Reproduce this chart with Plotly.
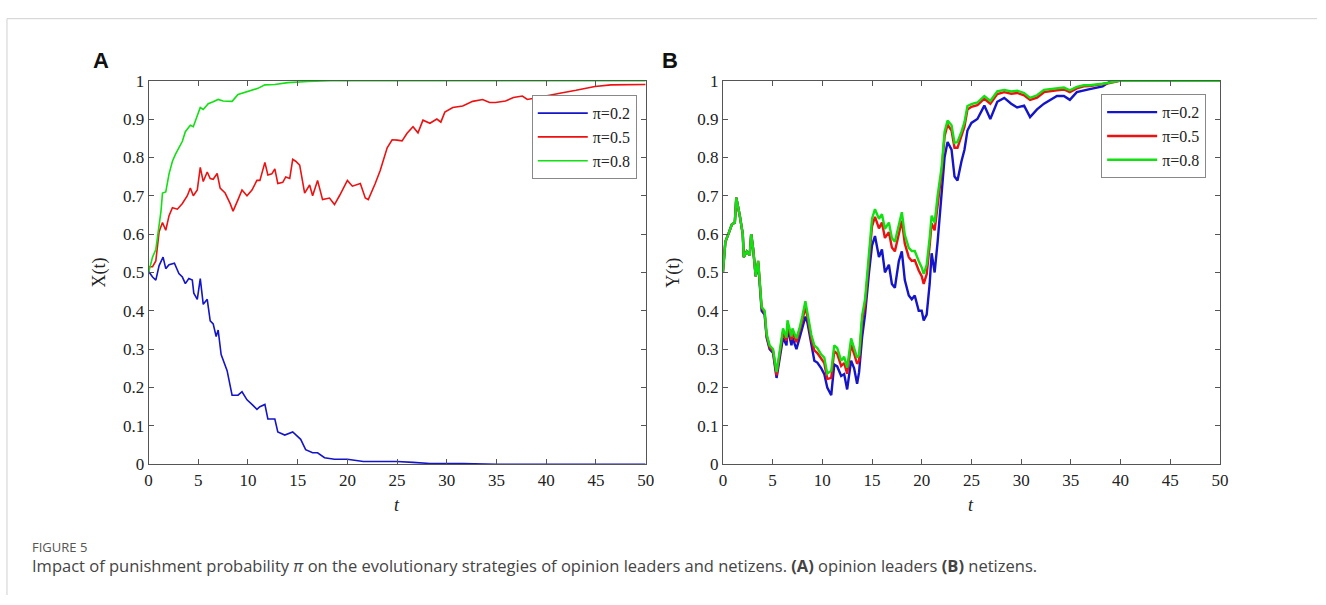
import plotly.graph_objects as go

# ---------------- Panel A data ----------------
tA_green = [0, 0.2, 0.4, 0.73, 1.06, 1.25, 1.4, 1.73, 2.06, 2.4, 2.7, 3.05, 3.4, 3.7, 4.2, 4.5, 4.8, 5.05, 5.2, 5.5,
            6.0, 6.5, 7.0, 7.5, 8.4, 9, 10, 11, 11.7, 12.7, 14, 15, 16, 18.3, 20, 50]
xA_green = [0.5, 0.52, 0.54, 0.56, 0.62, 0.66, 0.707, 0.71, 0.757, 0.79, 0.808, 0.825, 0.842, 0.867, 0.884, 0.88, 0.90,
            0.92, 0.93, 0.925, 0.94, 0.945, 0.951, 0.947, 0.946, 0.964, 0.973, 0.98, 0.989, 0.99, 0.995, 0.997, 0.998,
            1.0, 1.0, 1.0]

tA_red = [0, 0.4, 0.73, 1.06, 1.4, 1.73, 2.06, 2.4, 2.9, 3.4, 3.9, 4.2, 4.5, 4.9, 5.2, 5.5, 5.9, 6.2, 6.5, 6.9, 7.2,
          7.7, 8.2, 8.5, 9.0, 9.4, 9.9, 10.4, 10.9, 11.2, 11.7, 12.0, 12.4, 12.7, 13.0, 13.5, 13.8, 14.2, 14.5, 14.8,
          15.2, 15.7, 16.2, 16.5, 17.0, 17.5, 18.2, 18.7, 19.2, 20.0, 20.5, 21.3, 21.8, 22.1, 22.8, 23.3, 24.0, 24.5,
          25.0, 25.5, 26.0, 26.6, 27.1, 27.6, 28.3, 29.0, 29.4, 29.8, 30.6, 31.6, 32.6, 33.6, 34.3, 34.9, 35.9, 36.7,
          37.6, 38.1, 38.9, 40.2, 41.5, 43, 44.9, 46.5, 48.2, 50]
xA_red = [0.515, 0.515, 0.53, 0.606, 0.63, 0.61, 0.648, 0.669, 0.665, 0.68, 0.70, 0.72, 0.70, 0.715, 0.774, 0.737,
          0.762, 0.745, 0.743, 0.758, 0.72, 0.707, 0.68, 0.66, 0.69, 0.715, 0.70, 0.715, 0.74, 0.74, 0.787, 0.754,
          0.757, 0.77, 0.732, 0.735, 0.749, 0.745, 0.795, 0.79, 0.78, 0.707, 0.728, 0.70, 0.74, 0.69, 0.694, 0.677,
          0.70, 0.74, 0.725, 0.732, 0.694, 0.69, 0.732, 0.766, 0.825, 0.846, 0.845, 0.843, 0.863, 0.88, 0.864, 0.897,
          0.889, 0.90, 0.892, 0.918, 0.93, 0.934, 0.946, 0.951, 0.943, 0.943, 0.947, 0.956, 0.96, 0.951, 0.955, 0.962,
          0.968, 0.975, 0.985, 0.989, 0.989, 0.99]

tA_blue = [0, 0.4, 0.73, 1.06, 1.46, 1.73, 2.06, 2.6, 3.05, 3.4, 3.7, 4.05, 4.4, 4.55, 4.9, 5.2, 5.5, 5.9, 6.2, 6.5,
           6.8, 7.0, 7.3, 7.9, 8.4, 9.0, 9.4, 9.9, 10.4, 10.9, 11.2, 11.7, 12.0, 12.7, 13.0, 13.7, 14.5, 15.0, 15.3,
           15.8, 16.5, 17.0, 17.7, 18.7, 20.0, 21.6, 25.0, 26.6, 28.3, 31.6, 35.0, 50]
xA_blue = [0.503, 0.488, 0.48, 0.518, 0.54, 0.51, 0.52, 0.524, 0.497, 0.488, 0.471, 0.484, 0.48, 0.446, 0.43, 0.484,
           0.417, 0.43, 0.374, 0.366, 0.333, 0.35, 0.286, 0.244, 0.18, 0.18, 0.189, 0.168, 0.156, 0.143, 0.15, 0.156,
           0.118, 0.118, 0.084, 0.076, 0.084, 0.071, 0.065, 0.038, 0.03, 0.03, 0.017, 0.013, 0.013, 0.007, 0.007,
           0.005, 0.002, 0.002, 0.0, 0.0]

# ---------------- Panel B data ----------------
tB = [0, 0.25, 0.55, 0.9, 1.2, 1.35, 1.7, 2.0, 2.1, 2.4, 2.7, 2.85, 3.05, 3.3, 3.55, 3.7, 3.9, 4.2, 4.4, 4.7, 5.05,
      5.4, 5.7, 6.05, 6.4, 6.5, 6.9, 7.0, 7.4, 7.7, 8.0, 8.3, 8.5, 8.9, 9.2, 9.5, 9.9, 10.2, 10.5, 10.9, 11.2, 11.5,
      11.9, 12.2, 12.5, 12.9, 13.2, 13.5, 13.7, 14.0, 14.3, 14.7, 15.0, 15.3, 15.7, 16.0, 16.3, 16.7, 17.0, 17.3,
      17.7, 18.0, 18.3, 18.7, 19.0, 19.3, 19.7, 20.0, 20.2, 20.5, 20.8, 21.0, 21.3, 21.6, 22.0, 22.3, 22.6, 23.0,
      23.3, 23.6, 24.0, 24.3, 24.6, 25.0, 25.6, 26.3, 26.9, 27.6, 28.3, 29.0, 29.6, 30.3, 30.9, 31.6, 32.3, 32.9,
      33.6, 34.3, 34.9, 35.6, 36.3, 36.9, 38.2, 38.9, 40, 45, 50]
yB_green = [0.50, 0.58, 0.60, 0.625, 0.63, 0.695, 0.648, 0.60, 0.54, 0.555, 0.545, 0.60, 0.56, 0.49, 0.53, 0.48,
            0.41, 0.40, 0.34, 0.31, 0.30, 0.24, 0.29, 0.354, 0.33, 0.375, 0.333, 0.354, 0.328, 0.354, 0.387, 0.425,
            0.396, 0.337, 0.31, 0.303, 0.286, 0.278, 0.236, 0.244, 0.31, 0.303, 0.27, 0.28, 0.252, 0.328, 0.303,
            0.278, 0.285, 0.387, 0.43, 0.55, 0.64, 0.665, 0.64, 0.652, 0.614, 0.63, 0.59, 0.58, 0.623, 0.657, 0.598,
            0.564, 0.556, 0.556, 0.53, 0.513, 0.496, 0.52, 0.59, 0.648, 0.63, 0.70, 0.774, 0.867, 0.896, 0.884, 0.838,
            0.84, 0.867, 0.892, 0.934, 0.939, 0.943, 0.96, 0.947, 0.972, 0.976, 0.972, 0.974, 0.968, 0.955, 0.962,
            0.976, 0.978, 0.98, 0.982, 0.975, 0.984, 0.988, 0.988, 0.992, 0.995, 1.0, 1.0, 1.0]
yB_red = [0.50, 0.58, 0.60, 0.625, 0.63, 0.695, 0.648, 0.60, 0.54, 0.555, 0.545, 0.60, 0.56, 0.49, 0.53, 0.48,
          0.408, 0.395, 0.335, 0.305, 0.295, 0.232, 0.282, 0.345, 0.322, 0.366, 0.324, 0.345, 0.318, 0.344, 0.376,
          0.41, 0.386, 0.326, 0.297, 0.29, 0.274, 0.264, 0.222, 0.225, 0.295, 0.288, 0.256, 0.264, 0.236, 0.312,
          0.288, 0.262, 0.27, 0.372, 0.415, 0.535, 0.62, 0.645, 0.615, 0.63, 0.59, 0.605, 0.565, 0.555, 0.60, 0.635,
          0.575, 0.54, 0.53, 0.532, 0.505, 0.49, 0.47, 0.495, 0.57, 0.628, 0.61, 0.68, 0.76, 0.855, 0.885, 0.87,
          0.825, 0.825, 0.855, 0.88, 0.925, 0.932, 0.936, 0.953, 0.94, 0.965, 0.97, 0.966, 0.968, 0.962, 0.95, 0.956,
          0.97, 0.973, 0.975, 0.977, 0.97, 0.98, 0.985, 0.986, 0.99, 0.994, 1.0, 1.0, 1.0]
yB_blue = [0.50, 0.58, 0.60, 0.625, 0.63, 0.695, 0.648, 0.60, 0.54, 0.555, 0.545, 0.60, 0.56, 0.49, 0.525, 0.475,
           0.40, 0.39, 0.33, 0.30, 0.29, 0.225, 0.275, 0.33, 0.31, 0.355, 0.31, 0.33, 0.30, 0.33, 0.36, 0.385, 0.37,
           0.31, 0.27, 0.265, 0.25, 0.235, 0.20, 0.18, 0.26, 0.255, 0.23, 0.235, 0.195, 0.27, 0.25, 0.21, 0.24, 0.33,
           0.39, 0.50, 0.57, 0.595, 0.54, 0.56, 0.50, 0.52, 0.47, 0.46, 0.53, 0.555, 0.48, 0.44, 0.43, 0.44, 0.40,
           0.40, 0.375, 0.39, 0.47, 0.55, 0.50, 0.58, 0.70, 0.80, 0.84, 0.82, 0.75, 0.74, 0.79, 0.82, 0.87, 0.89,
           0.90, 0.935, 0.90, 0.945, 0.955, 0.94, 0.93, 0.935, 0.905, 0.925, 0.94, 0.95, 0.96, 0.96, 0.95, 0.97,
           0.975, 0.978, 0.985, 0.997, 1.0, 1.0, 1.0]

legend_labels = ["π=0.2", "π=0.5", "π=0.8"]
y_ticks = [0, 0.1, 0.2, 0.3, 0.4, 0.5, 0.6, 0.7, 0.8, 0.9, 1]
y_tick_text = ["0", "0.1", "0.2", "0.3", "0.4", "0.5", "0.6", "0.7", "0.8", "0.9", "1"]
x_ticks = [0, 5, 10, 15, 20, 25, 30, 35, 40, 45, 50]

BLUE = "#1414c8"
RED = "#ee1111"
GREEN = "#11e011"
SERIF = "Liberation Serif, Times New Roman, serif"

fig = go.Figure()

# Panel A
for t, v, c, name in [(tA_blue, xA_blue, BLUE, legend_labels[0]),
                      (tA_red, xA_red, RED, legend_labels[1]),
                      (tA_green, xA_green, GREEN, legend_labels[2])]:
    fig.add_trace(go.Scatter(x=t, y=v, mode="lines", name=name, line=dict(color=c, width=1.6),
                             xaxis="x", yaxis="y", legend="legend"))
# Panel B
for t, v, c, name in [(tB, yB_blue, BLUE, legend_labels[0]),
                      (tB, yB_red, RED, legend_labels[1]),
                      (tB, yB_green, GREEN, legend_labels[2])]:
    fig.add_trace(go.Scatter(x=t, y=v, mode="lines", name=name, line=dict(color=c, width=2.4),
                             xaxis="x2", yaxis="y2", legend="legend2"))

W, H = 1326, 605
yd = [1 - 470 / H, 1 - 74 / H]
axis_common = dict(showgrid=False, zeroline=False, showline=True, linecolor="#555", linewidth=1,
                   mirror="ticks", ticks="inside", ticklen=5, tickcolor="#555",
                   tickfont=dict(family=SERIF, size=17, color="#222"))

legend_common = dict(xanchor="left", yanchor="top", bgcolor="white", bordercolor="#888", borderwidth=1,
                     font=dict(family=SERIF, size=16, color="#222"), tracegroupgap=0, itemwidth=50)

fig.update_layout(
    width=W, height=H, margin=dict(l=0, r=0, t=0, b=0),
    paper_bgcolor="white", plot_bgcolor="white", showlegend=True,
    xaxis=dict(domain=[146 / W, 648 / W], range=[0, 50], tickvals=x_ticks, anchor="y", **axis_common),
    yaxis=dict(domain=yd, range=[0, 1], tickvals=y_ticks, ticktext=y_tick_text, anchor="x", **axis_common),
    xaxis2=dict(domain=[726 / W, 1228 / W], range=[0, 50], tickvals=x_ticks, anchor="y2", **axis_common),
    yaxis2=dict(domain=yd, range=[0, 1], tickvals=y_ticks, ticktext=y_tick_text, anchor="x2", **axis_common),
    legend=dict(x=533 / W, y=1 - 89 / H, **legend_common),
    legend2=dict(x=1108 / W, y=1 - 88 / H, **legend_common),
)


def txt(x, y, text, font, xanchor="center", angle=0):
    return dict(x=x / W, y=1 - y / H, text=text, showarrow=False, xref="paper", yref="paper",
                xanchor=xanchor, yanchor="middle", textangle=angle, font=font)


SANS_BOLD = dict(family="Liberation Sans, Arial, sans-serif", size=22, color="#111")
LABEL = dict(family=SERIF, size=18, color="#222")
ann = [
    txt(98, 53, "<b>A</b>", SANS_BOLD),
    txt(673, 53, "<b>B</b>", SANS_BOLD),
    txt(96, 272, "X(t)", LABEL, angle=-90),
    txt(676, 272, "Y(t)", LABEL, angle=-90),
    txt(397, 512, "<i>t</i>", LABEL),
    txt(977, 512, "<i>t</i>", LABEL),
    txt(26, 555, "FIGURE 5", dict(family="Open Sans, Noto Sans, sans-serif", size=13, color="#555"), xanchor="left"),
    txt(26, 575, "Impact of punishment probability <i>π</i> on the evolutionary strategies of opinion leaders "
                 "and netizens. <b>(A)</b> opinion leaders <b>(B)</b> netizens.",
        dict(family="Open Sans, Noto Sans, sans-serif", size=16.5, color="#444"), xanchor="left"),
]
fig.update_layout(annotations=ann)

fig.add_shape(type="line", xref="paper", yref="paper", x0=3 / W, x1=1, y0=1 - 10 / H, y1=1 - 10 / H,
              line=dict(color="#d0d0d0", width=1))
fig.add_shape(type="line", xref="paper", yref="paper", x0=3 / W, x1=3 / W, y0=0, y1=1 - 10 / H,
              line=dict(color="#d0d0d0", width=1))

fig.write_html("out.html")
